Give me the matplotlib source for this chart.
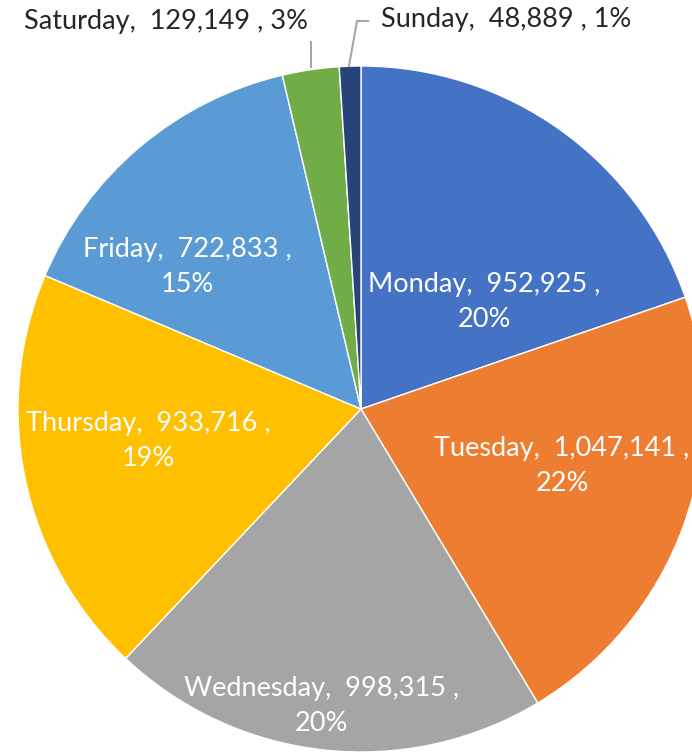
import matplotlib
matplotlib.use("Agg")
import matplotlib.pyplot as plt

days = ["Monday", "Tuesday", "Wednesday", "Thursday", "Friday", "Saturday", "Sunday"]
values = [952925, 1047141, 998315, 933716, 722833, 129149, 48889]
percents = ["20%", "22%", "20%", "19%", "15%", "3%", "1%"]
colors = ["#4472C4", "#ED7D31", "#A5A5A5", "#FFC000", "#5B9BD5", "#70AD47", "#264478"]

W, H = 692, 756
fig = plt.figure(figsize=(W / 100, H / 100), dpi=100)
ax = fig.add_axes([0, 0, 1, 1])

cx, cy, r = 361, H - 409, 343
ax.pie(values, startangle=90, counterclock=False, center=(cx, cy), radius=r,
       colors=colors, wedgeprops=dict(edgecolor="white", linewidth=1.0))
ax.set_xlim(0, W)
ax.set_ylim(0, H)
ax.set_aspect("auto")
ax.axis("off")

font = "Lato"
fs = 19.5

inside_pos = {
    "Monday": (484, 302),
    "Tuesday": (562, 466),
    "Wednesday": (321, 706),
    "Thursday": (148, 441),
    "Friday": (187, 267),
}
for d, v, p in zip(days, values, percents):
    if d in inside_pos:
        x, y = inside_pos[d]
        ax.text(x, H - y, f"{d},  {v:,} ,\n{p}", ha="center", va="center",
                multialignment="center", color="white", fontsize=fs,
                family=font, linespacing=1.5)

outside_pos = {"Saturday": (166, 22), "Sunday": (506, 20)}
for d, v, p in zip(days, values, percents):
    if d in outside_pos:
        x, y = outside_pos[d]
        ax.text(x, H - y, f"{d},  {v:,} , {p}", ha="center", va="center",
                color="#262626", fontsize=fs, family=font)

ax.plot([311, 311], [H - 67, H - 42], color="#A6A6A6", lw=1.5)
ax.plot([349, 357, 368], [H - 66, H - 21, H - 21], color="#A6A6A6", lw=1.5)

fig.savefig("out.png", dpi=100)
